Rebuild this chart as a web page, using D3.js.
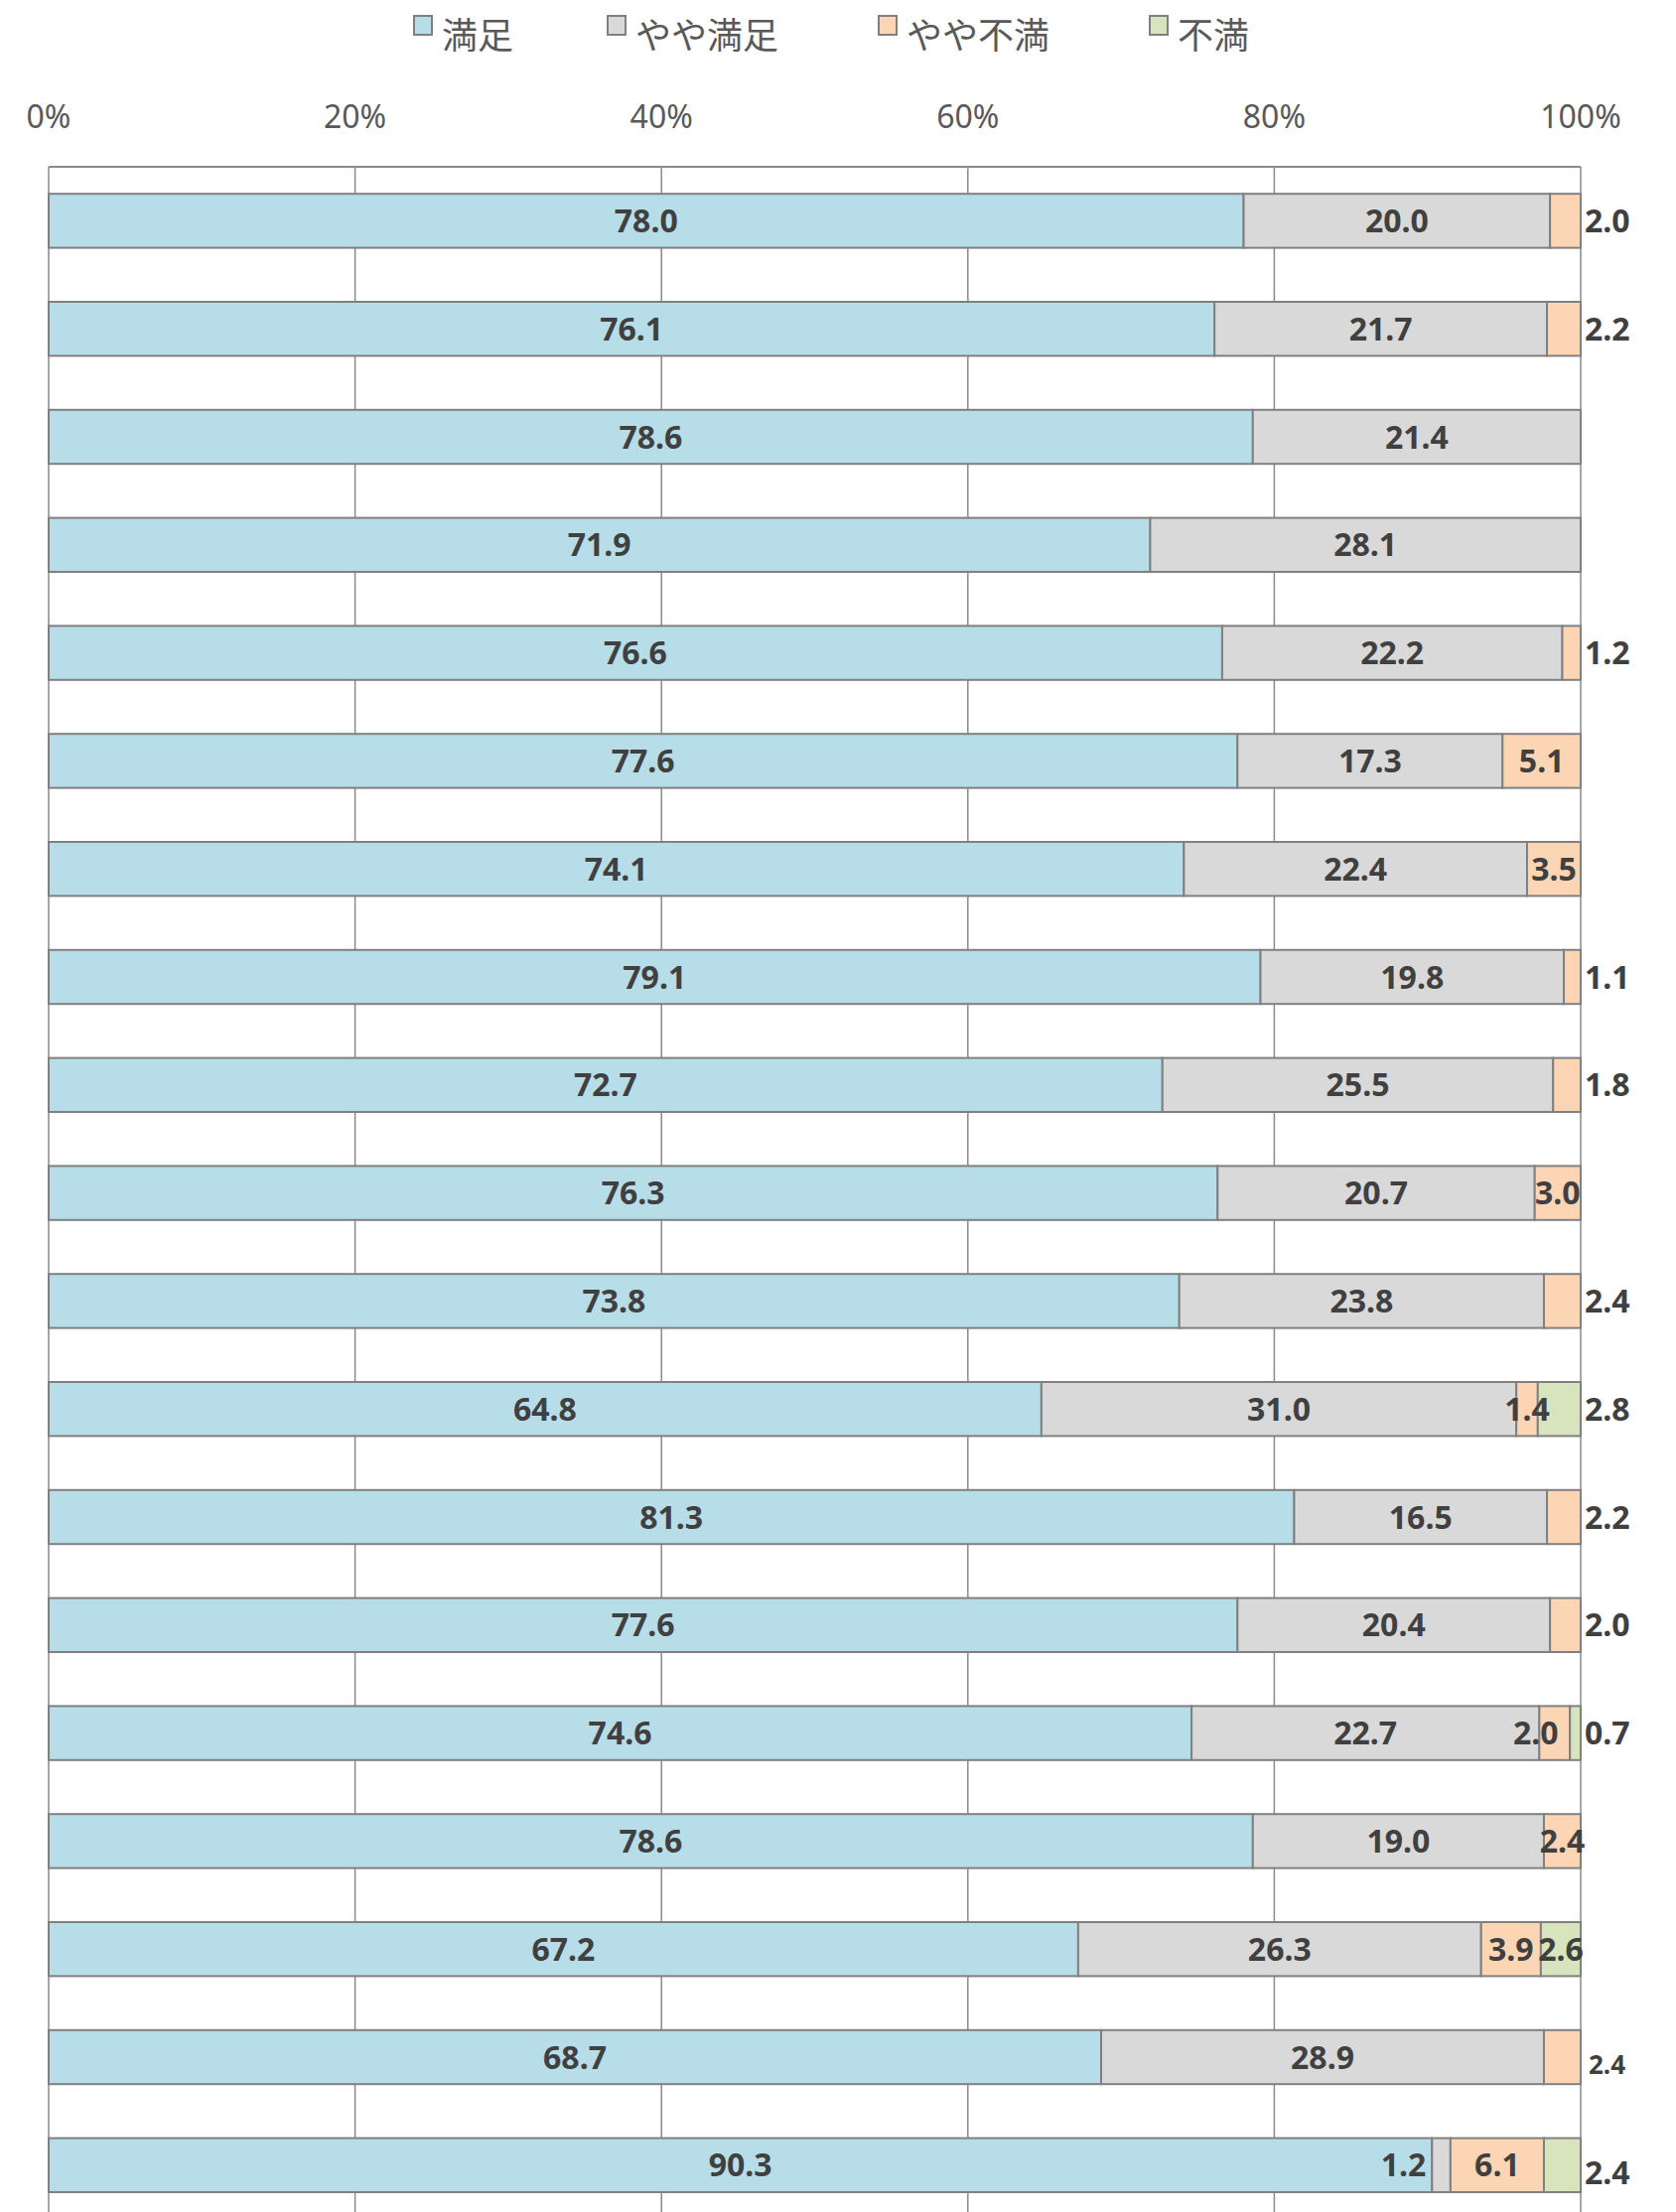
<!DOCTYPE html>
<html>
<head>
<meta charset="utf-8">
<script src="https://cdn.jsdelivr.net/npm/d3@7"></script>
<style>
  body { margin: 0; background: #fff; }
</style>
</head>
<body>
<div id="chart-area"></div>
<script>
// series values, one entry per row (top to bottom)
var series = ["満足", "やや満足", "やや不満", "不満"]
var manzoku    = [78.0, 76.1, 78.6, 71.9, 76.6, 77.6, 74.1, 79.1, 72.7, 76.3, 73.8, 64.8, 81.3, 77.6, 74.6, 78.6, 67.2, 68.7, 90.3]
var yayaManzoku = [20.0, 21.7, 21.4, 28.1, 22.2, 17.3, 22.4, 19.8, 25.5, 20.7, 23.8, 31.0, 16.5, 20.4, 22.7, 19.0, 26.3, 28.9, 1.2]
var yayaFuman  = [2.0, 2.2, 0, 0, 1.2, 5.1, 3.5, 1.1, 1.8, 3.0, 2.4, 1.4, 2.2, 2.0, 2.0, 2.4, 3.9, 2.4, 6.1]
var fuman      = [0, 0, 0, 0, 0, 0, 0, 0, 0, 0, 0, 2.8, 0, 0, 0.7, 0, 2.6, 0, 2.4]
var ticks = [0, 20, 40, 60, 80, 100]
var colors = ["#b7dde8", "#d9d9d9", "#fcd5b5", "#d7e4bd"]

// labels drawn to the right of the bar: [row, series]
var outside = [[0,2],[1,2],[4,2],[7,2],[8,2],[10,2],[11,3],[12,2],[13,2],[14,3],[17,2],[18,3]]
// small manual shifts of some labels: [row, series, dx, dy]
var nudges = [[14,2,-19,0],[18,1,-38,0],[17,2,4,8],[18,3,0,8]]

var W = 1688, H = 2228
var rows = d3.range(manzoku.length)

var table = rows.map(function(i) {
  return { row: i, values: [manzoku[i], yayaManzoku[i], yayaFuman[i], fuman[i]] }
})

var svg = d3.select("#chart-area")
  .append("svg")
  .attr("width", W)
  .attr("height", H)
  .style("font-family", "'Noto Sans', sans-serif")

var plotLeft = 49, plotRight = 1592, plotTop = 168
var step = 108.8
var plotBottom = plotTop + step * rows.length

var x = d3.scaleLinear()
  .domain([0, 100])
  .range([plotLeft, plotRight])

var y = d3.scaleBand()
  .domain(rows)
  .range([plotTop, plotBottom])
  .paddingInner(0.5)
  .paddingOuter(0.25)

// gridlines
svg.selectAll("line.grid")
  .data(ticks)
  .enter()
  .append("line")
  .attr("class", "grid")
  .attr("x1", function(d) { return x(d) })
  .attr("x2", function(d) { return x(d) })
  .attr("y1", plotTop)
  .attr("y2", plotBottom)
  .attr("stroke", "#8a8a8a")
  .attr("stroke-width", 1.5)

svg.append("line")
  .attr("x1", plotLeft).attr("x2", plotRight)
  .attr("y1", plotTop).attr("y2", plotTop)
  .attr("stroke", "#8a8a8a")
  .attr("stroke-width", 2)

// tick labels on top
svg.selectAll("text.tick")
  .data(ticks)
  .enter()
  .append("text")
  .attr("class", "tick")
  .attr("x", function(d) { return x(d) })
  .attr("y", 118)
  .attr("dy", "0.35em")
  .attr("text-anchor", "middle")
  .attr("font-size", 32)
  .attr("fill", "#595959")
  .text(function(d) { return d + "%" })

// stacked segments
var segs = []
table.forEach(function(r) {
  var acc = 0
  r.values.forEach(function(v, s) {
    segs.push({ row: r.row, s: s, v: v, x0: acc, x1: acc + v })
    acc += v
  })
})

svg.selectAll("rect.seg")
  .data(segs.filter(function(d) { return d.v > 0 }))
  .enter()
  .append("rect")
  .attr("class", "seg")
  .attr("x", function(d) { return x(d.x0) })
  .attr("width", function(d) { return x(d.x1) - x(d.x0) })
  .attr("y", function(d) { return y(d.row) })
  .attr("height", y.bandwidth())
  .attr("fill", function(d) { return colors[d.s] })
  .attr("stroke", "#808080")
  .attr("stroke-width", 2)

function isOutside(d) {
  return outside.some(function(o) { return o[0] == d.row && o[1] == d.s })
}
function nudge(d) {
  var n = nudges.find(function(o) { return o[0] == d.row && o[1] == d.s })
  return n ? [n[2], n[3]] : [0, 0]
}

svg.selectAll("text.lbl")
  .data(segs.filter(function(d) { return d.v > 0 }))
  .enter()
  .append("text")
  .attr("class", "lbl")
  .attr("x", function(d) {
    var base = isOutside(d) ? plotRight + 4 : (x(d.x0) + x(d.x1)) / 2
    return base + nudge(d)[0]
  })
  .attr("y", function(d) { return y(d.row) + y.bandwidth() / 2 + nudge(d)[1] })
  .attr("dy", "0.36em")
  .attr("text-anchor", function(d) { return isOutside(d) ? "start" : "middle" })
  .attr("font-size", function(d) { return (d.row == 17 && d.s == 2) ? 26 : 32 })
  .attr("font-weight", "bold")
  .attr("fill", "#404040")
  .text(function(d) { return d.v.toFixed(1) })

// legend
var legendX = [417, 612, 885, 1158]
var legend = svg.selectAll("g.legend")
  .data(series)
  .enter()
  .append("g")
  .attr("class", "legend")
  .attr("transform", function(d, i) { return "translate(" + legendX[i] + ",0)" })

legend.append("rect")
  .attr("x", 0).attr("y", 16)
  .attr("width", 18).attr("height", 19)
  .attr("fill", function(d, i) { return colors[i] })
  .attr("stroke", "#808080")
  .attr("stroke-width", 2)

legend.append("text")
  .attr("x", 28)
  .attr("y", 36)
  .attr("dy", "0.35em")
  .attr("font-size", 36)
  .attr("font-family", "'Noto Sans CJK JP', sans-serif")
  .attr("fill", "#595959")
  .text(function(d) { return d })
</script>
</body>
</html>
